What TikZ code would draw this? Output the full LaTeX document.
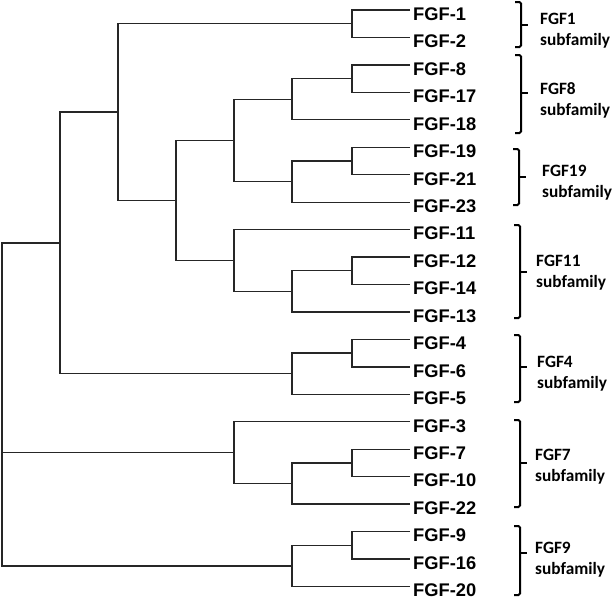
\documentclass[tikz,border=0pt]{standalone}
\usepackage{fontspec}
\setmainfont{Liberation Sans}
\newfontfamily\labfont{Carlito}
\begin{document}
\begin{tikzpicture}[x=1pt,y=-1pt,
  tree/.style={line width=1.3pt,draw=black!85},
  brk/.style={line width=2pt,draw=black,rounded corners=1.5pt},
  leaf/.style={anchor=base west,inner sep=0pt,font=\fontsize{18.3}{18}\selectfont\bfseries},
  fam/.style={anchor=base west,inner sep=0pt,align=left,font=\labfont\fontsize{17.3}{21}\selectfont\bfseries}]
\useasboundingbox (0,0) rectangle (615,598);
% leaf ends
\foreach \i/\lab in {0/FGF-1,1/FGF-2,2/FGF-8,3/FGF-17,4/FGF-18,5/FGF-19,6/FGF-21,7/FGF-23,8/FGF-11,9/FGF-12,10/FGF-14,11/FGF-13,12/FGF-4,13/FGF-6,14/FGF-5,15/FGF-3,16/FGF-7,17/FGF-10,18/FGF-22,19/FGF-9,20/FGF-16,21/FGF-20}{
  \coordinate (t\i) at (410,10+27.45*\i);
  \node[leaf] (l\i) at (413,20.3+27.45*\i) {\lab};
}
% internal nodes
\coordinate (n12) at (352,23.7);
\coordinate (n817) at (352,78.6);
\coordinate (g8) at (292,99.2);
\coordinate (n1921) at (352,161);
\coordinate (g19) at (292,181.6);
\coordinate (D) at (234,140.4);
\coordinate (n1214) at (352,270.8);
\coordinate (g11b) at (292,291.4);
\coordinate (g11) at (234,260.5);
\coordinate (C) at (176,200.4);
\coordinate (B) at (118,112.1);
\coordinate (n46) at (352,353.1);
\coordinate (g4) at (292,373.7);
\coordinate (A) at (60,242.9);
\coordinate (n710) at (352,462.9);
\coordinate (g7b) at (292,483.5);
\coordinate (g7) at (234,452.6);
\coordinate (n916) at (352,545.3);
\coordinate (g9) at (292,565.9);
\coordinate (root) at (2,452.6);
% tree edges
\draw[tree] (t0) -| (n12) |- (t1);
\draw[tree] (t2) -| (n817) |- (t3);
\draw[tree] (n817) -| (g8) |- (t4);
\draw[tree] (t5) -| (n1921) |- (t6);
\draw[tree] (n1921) -| (g19) |- (t7);
\draw[tree] (g8) -| (D) |- (g19);
\draw[tree] (t9) -| (n1214) |- (t10);
\draw[tree] (n1214) -| (g11b) |- (t11);
\draw[tree] (t8) -| (g11) |- (g11b);
\draw[tree] (D) -| (C) |- (g11);
\draw[tree] (n12) -| (B) |- (C);
\draw[tree] (t12) -| (n46) |- (t13);
\draw[tree] (n46) -| (g4) |- (t14);
\draw[tree] (B) -| (A) |- (g4);
\draw[tree] (t16) -| (n710) |- (t17);
\draw[tree] (n710) -| (g7b) |- (t18);
\draw[tree] (t15) -| (g7) |- (g7b);
\draw[tree] (t19) -| (n916) |- (t20);
\draw[tree] (n916) -| (g9) |- (t21);
\draw[tree] (A) -| (root) |- (g9);
\draw[tree] (root) -- (g7);
% brackets
\foreach \nm/\top/\bot/\mid/\bx/\lx/\ly/\txt in {
  b1/2/47/25/521/540/24/FGF1,
  b8/55/133/93/521/540/94/FGF8,
  b19/149/205/177/519/542/176/FGF19,
  b11/225/318/272/520/536/266/FGF11,
  b4/335/402/367/520/537/367/FGF4,
  b7/420/507/463/520/535/460/FGF7,
  b9/526/595/553/520/535/553/FGF9}{
  \coordinate (\nm t) at (\bx-6,\top);
  \coordinate (\nm b) at (\bx-6,\bot);
  \coordinate (\nm m) at (\bx,\mid);
  \coordinate (\nm k) at (\bx+7,\mid);
  \draw[brk] (\nm t) -- (\bx,\top) -- (\bx,\bot) -- (\nm b);
  \draw[line width=2pt] (\nm m) -- (\nm k);
  \node[fam] (\nm l) at (\lx,\ly+21) {\txt\\subfamily};
}
\end{tikzpicture}
\end{document}
